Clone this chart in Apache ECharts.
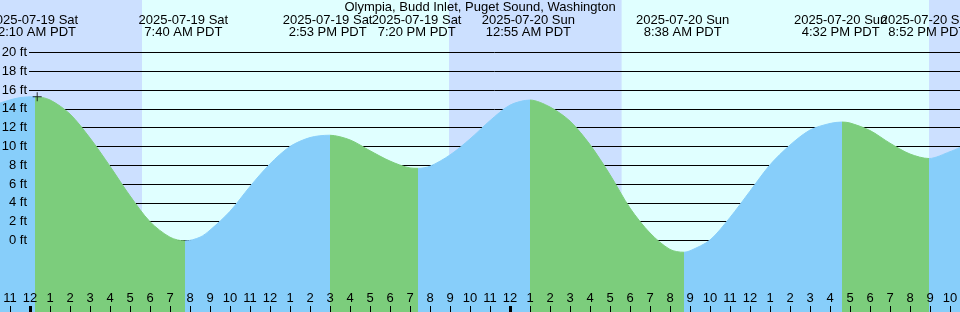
<!DOCTYPE html>
<html>
<head>
<meta charset="utf-8">
<script src="https://cdn.jsdelivr.net/npm/echarts@6/dist/echarts.min.js"></script>
<style>
html, body { margin: 0; padding: 0; background: #fff; }
#chart { width: 960px; height: 312px; }
</style>
</head>
<body>
<div id="chart"></div>
<script>
const chartTitle = 'Olympia, Budd Inlet, Puget Sound, Washington';

// hours from midnight 2025-07-19 PDT, height in feet
const tideHours = [-1.5, -1, -0.5, 0.25, 1, 2, 3, 4, 5, 6, 7, 7.75, 8.5, 9, 10, 11, 12, 13, 14, 14.98,
    16, 17, 18, 19, 19.4, 20, 21, 22, 23, 24, 25, 26, 27, 28, 29, 30, 31, 32, 32.7, 33, 34, 35, 36, 37,
    38, 39, 40, 40.6, 41, 42, 43, 44, 44.95, 46, 46.5];
const tideFeet = [14.63, 14.95, 15.2, 15.3, 14.95, 13.45, 10.9, 7.9, 4.75, 2.0, 0.35, -0.05, 0.35, 1.1, 3.1, 5.75, 8.15, 10.0, 10.95, 11.2,
    10.7, 9.55, 8.45, 7.72, 7.68, 7.9, 9.1, 10.8, 12.75, 14.4, 14.94, 14.2, 12.7, 10.2, 7.0, 3.45, 0.8, -0.95, -1.25, -1.1, 0.05, 2.45, 5.25, 8.05,
    10.15, 11.75, 12.45, 12.6, 12.5, 11.7, 10.35, 9.2, 8.72, 9.45, 9.9];

// where the fill switches between rising (blue) and falling (green)
const turnHours = [0.25, 7.75, 14.98, 19.4, 25.0, 32.7, 40.6, 44.95];

const eventHours = [0.167, 7.667, 14.883, 19.333, 24.917, 32.633, 40.533, 44.867];
const eventDates = ['2025-07-19 Sat', '2025-07-19 Sat', '2025-07-19 Sat', '2025-07-19 Sat',
    '2025-07-20 Sun', '2025-07-20 Sun', '2025-07-20 Sun', '2025-07-20 Sun'];
const eventTimes = ['12:10 AM PDT', '7:40 AM PDT', '2:53 PM PDT', '7:20 PM PDT',
    '12:55 AM PDT', '8:38 AM PDT', '4:32 PM PDT', '8:52 PM PDT'];

const nightStarts = [-1.5, 20.95, 44.95];
const nightEnds = [5.6, 29.58, 46.5];

const feetTicks = [0, 2, 4, 6, 8, 10, 12, 14, 16, 18, 20];
const hourLabels = ['11', '12', '1', '2', '3', '4', '5', '6', '7', '8', '9', '10', '11', '12',
    '1', '2', '3', '4', '5', '6', '7', '8', '9', '10', '11', '12', '1', '2', '3', '4', '5', '6',
    '7', '8', '9', '10', '11', '12', '1', '2', '3', '4', '5', '6', '7', '8', '9', '10'];
const firstHour = -1;
const midnightHours = [0, 24];

const nowHour = 0.36;
const nowFeet = 15.3;

const BLUE = '#87cefa';
const GREEN = '#7ccd7c';
const NIGHT = '#cce0ff';
const DAY = '#e0ffff';
const FONT = 'Liberation Sans';

const X_MIN = -1.5, X_MAX = 46.5;
const Y_MIN = -7.606, Y_MAX = 25.585;

const hourTicks = hourLabels.map((_, i) => firstHour + i);
const evenEvents = eventHours.filter((_, i) => i % 2 === 0);
const oddEvents = eventHours.filter((_, i) => i % 2 === 1);

const pieces = [{ lt: turnHours[0], color: BLUE }];
turnHours.forEach((t, i) => {
    const p = { gte: t, color: i % 2 === 0 ? GREEN : BLUE };
    if (i < turnHours.length - 1) p.lt = turnHours[i + 1];
    pieces.push(p);
});

const findEvent = (v) => eventHours.findIndex(h => Math.abs(h - v) < 1e-6);

const eventAxis = (values) => ({
    type: 'value', min: X_MIN, max: X_MAX, position: 'top', z: 10,
    axisLine: { show: false, onZero: false },
    splitLine: { show: false },
    axisTick: { show: false },
    axisLabel: {
        inside: true, customValues: values, margin: 14, lineHeight: 12,
        hideOverlap: false, showMinLabel: true, showMaxLabel: true,
        color: '#000', fontSize: 13, fontFamily: FONT,
        formatter: v => {
            const i = findEvent(v);
            return i < 0 ? '' : eventDates[i] + '\n' + eventTimes[i];
        }
    }
});

const option = {
    animation: false,
    textStyle: { fontFamily: FONT },
    title: {
        text: chartTitle,
        left: 'center',
        top: 1,
        padding: 0,
        textStyle: { fontFamily: FONT, fontSize: 13, fontWeight: 'normal', color: '#000' }
    },
    grid: [
        {
            left: 0, right: 0, top: 0, bottom: 0,
            containLabel: false, outerBoundsMode: 'none',
            show: true, backgroundColor: DAY, borderWidth: 0
        },
        {
            // only holds the horizontal rules, which start right of the ft labels
            left: 29, right: 0, top: 0, bottom: 0,
            containLabel: false, outerBoundsMode: 'none'
        }
    ],
    visualMap: {
        type: 'piecewise',
        show: false,
        dimension: 0,
        seriesIndex: 0,
        pieces: pieces
    },
    xAxis: [
        {
            type: 'value', min: X_MIN, max: X_MAX, position: 'bottom', z: 10,
            axisLine: { show: false, onZero: false },
            splitLine: { show: false },
            axisTick: { show: true, inside: true, length: 6, lineStyle: { color: '#000', width: 1 }, customValues: hourTicks },
            axisLabel: {
                inside: true, customValues: hourTicks, margin: 14, verticalAlign: 'middle',
                color: '#000', fontSize: 13, fontFamily: FONT,
                formatter: v => hourLabels[Math.round(v) - firstHour]
            }
        },
        {
            type: 'value', min: X_MIN, max: X_MAX, position: 'bottom', z: 11,
            axisLine: { show: false, onZero: false },
            splitLine: { show: false },
            axisTick: { show: true, inside: true, length: 6, lineStyle: { color: '#000', width: 3 }, customValues: midnightHours },
            axisLabel: { show: false }
        },
        eventAxis(evenEvents),
        eventAxis(oddEvents),
        {
            gridIndex: 1, type: 'value', show: false, min: 0, max: 1
        }
    ],
    yAxis: [
        {
            type: 'value', min: Y_MIN, max: Y_MAX, z: 10,
            axisLine: { show: false, onZero: false },
            axisTick: { show: false },
            splitLine: { show: false },
            axisLabel: {
                inside: true, customValues: feetTicks, align: 'right', margin: 27,
                color: '#000', fontSize: 13, fontFamily: FONT,
                formatter: v => v + ' ft'
            }
        },
        {
            gridIndex: 1, type: 'value', min: Y_MIN, max: Y_MAX, z: 2,
            axisLine: { show: false, onZero: false },
            axisTick: { show: false, customValues: feetTicks },
            axisLabel: { show: false, customValues: feetTicks },
            splitLine: { show: true, lineStyle: { color: '#000', width: 1 } }
        }
    ],
    series: [
        {
            type: 'line',
            smooth: 0.3,
            symbol: 'none',
            z: 3,
            lineStyle: { width: 1 },
            areaStyle: { opacity: 1, origin: 'start' },
            data: tideHours.map((h, i) => [h, tideFeet[i]]),
            markArea: {
                silent: true,
                z: 1,
                itemStyle: { color: NIGHT },
                data: nightStarts.map((s, i) => [{ xAxis: s }, { xAxis: nightEnds[i] }])
            }
        },
        {
            type: 'scatter',
            silent: true,
            z: 5,
            symbol: 'path://M4,0h1v9h-1z M0,4h9v1h-9z',
            symbolSize: 9,
            itemStyle: { color: '#000' },
            data: [[nowHour, nowFeet]]
        }
    ]
};

const myChart = echarts.init(document.getElementById('chart'));
myChart.setOption(option);
</script>
</body>
</html>
